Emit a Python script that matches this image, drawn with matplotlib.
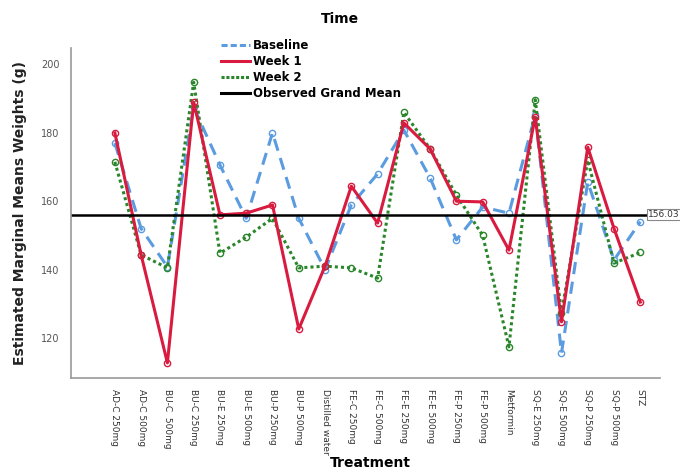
import matplotlib
matplotlib.use('Agg')
import matplotlib.pyplot as plt
from matplotlib.lines import Line2D

treatments = ['AD-C 250mg', 'AD-C 500mg', 'BU-C  500mg', 'BU-C 250mg', 'BU-E 250mg',
              'BU-E 500mg', 'BU-P 250mg', 'BU-P 500mg', 'Distilled water', 'FE-C 250mg',
              'FE-C 500mg', 'FE-E 250mg', 'FE-E 500mg', 'FE-P 250mg', 'FE-P 500mg',
              'Metformin', 'SQ-E 250mg', 'SQ-E 500mg', 'SQ-P 250mg', 'SQ-P 500mg', 'STZ']

baseline = [177, 152, 140.8, 187.5, 170.6, 155, 180, 155, 140, 158.9, 168,
            180.8, 166.8, 148.7, 158.3, 156.5, 185.2, 115.6, 165.6, 142.8, 154]
week1 = [180, 144.3, 112.7, 189, 156, 156.5, 158.9, 122.6, 141, 164.4, 153.6,
         182.9, 175.3, 160, 159.8, 145.7, 184.6, 124.7, 175.8, 152, 130.5]
week2 = [171.5, 144.3, 140.5, 194.8, 144.8, 149.5, 155, 140.5, 141, 140.5, 137.5,
         186, 175.3, 161.8, 150, 117.4, 189.7, 127.3, 172, 141.9, 145]
grand_mean = 156.03

c_base = '#5b9be0'
c_w1 = '#d81b3f'
c_w2 = '#2a862a'

fig = plt.figure(figsize=(6.8, 4.76), dpi=100)
ax = fig.add_axes([0.104, 0.206, 0.867, 0.693])

x = list(range(len(treatments)))
ax.plot(x, baseline, color=c_base, lw=2.2, ls=(0, (4, 2.5)), marker='o', ms=4.5,
        mfc='none', mec=c_base, mew=1)
ax.plot(x, week2, color=c_w2, lw=2.2, ls=(0, (1, 1)), marker='o', ms=4.5,
        mfc='none', mec=c_w2, mew=1)
ax.plot(x, week1, color=c_w1, lw=2.2, marker='o', ms=4.5,
        mfc='none', mec=c_w1, mew=1)
ax.plot([-1.68, 20.3], [grand_mean, grand_mean], color='black', lw=1.8)
ax.text(20.3, grand_mean, '%.2f' % grand_mean, fontsize=6.5, va='center', ha='left',
        clip_on=False, color='#333333',
        bbox=dict(boxstyle='square,pad=0.12', fc='white', ec='#888888', lw=0.8))

ax.set_xlim(-1.68, 20.76)
ax.set_ylim(108.3, 204.8)
ax.set_yticks([120, 140, 160, 180, 200])
ax.set_xticks(x)
ax.set_xticklabels(treatments, rotation=-90, fontsize=6.5, color='#333333')
ax.tick_params(axis='y', labelsize=7, colors='#555555', length=0, pad=8)
ax.tick_params(axis='x', length=0, pad=8)
for s in ['top', 'right']:
    ax.spines[s].set_visible(False)
for s in ['left', 'bottom']:
    ax.spines[s].set_color('#999999')
    ax.spines[s].set_linewidth(1.2)

ax.set_ylabel('Estimated Marginal Means Weights (g)', fontsize=10, fontweight='bold',
              color='#222222', labelpad=10)
fig.text(0.545, 0.012, 'Treatment', fontsize=10, fontweight='bold', ha='center', va='bottom')
fig.text(0.5, 0.96, 'Time', fontsize=10, fontweight='bold', ha='center', va='center')

handles = [Line2D([], [], color=c_base, lw=2.2, ls=(0, (2, 1))),
           Line2D([], [], color=c_w1, lw=2.2),
           Line2D([], [], color=c_w2, lw=2.2, ls=(0, (1, 0.6))),
           Line2D([], [], color='black', lw=2.2)]
leg = fig.legend(handles, ['Baseline', 'Week 1', 'Week 2', 'Observed Grand Mean'],
                 loc='upper left', bbox_to_anchor=(0.31, 0.94), frameon=False,
                 handlelength=2.4, handletextpad=0.3, labelspacing=0.25,
                 prop={'size': 8.5, 'weight': 'bold'})

fig.savefig('out.png', dpi=100)
